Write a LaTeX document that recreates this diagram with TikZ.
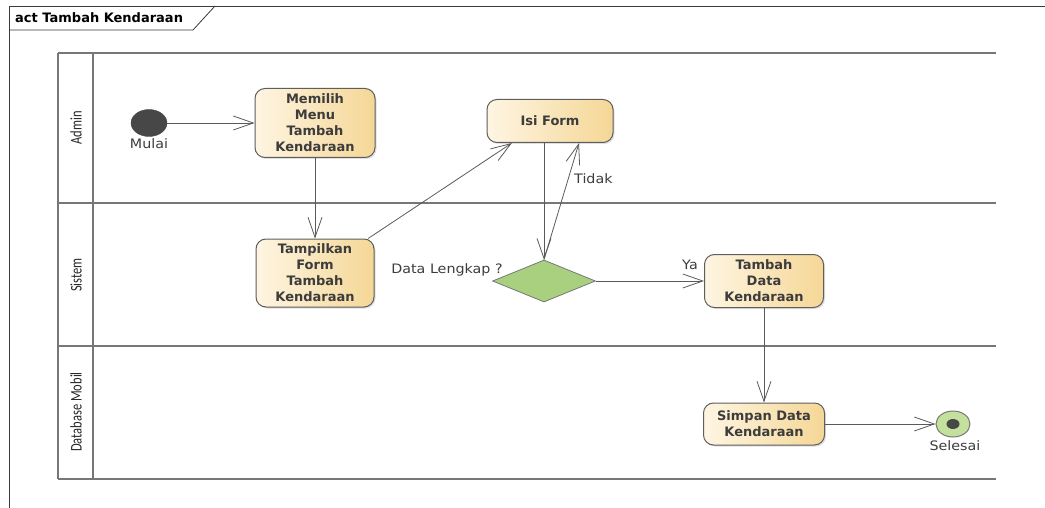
\documentclass[tikz,border=0pt]{standalone}
\usepackage{fontspec}
\usepackage{graphicx}
\setmainfont{DejaVu Sans}
\newfontfamily\lanefont{Carlito}
\usetikzlibrary{arrows.meta,shapes.geometric,shadows,calc}

\definecolor{framegray}{HTML}{3A3A3A}
\definecolor{lanegray}{HTML}{777777}
\definecolor{edgegray}{HTML}{5A5A5A}
\definecolor{actlight}{HTML}{FEF5E2}
\definecolor{actdark}{HTML}{F5D796}
\definecolor{actline}{HTML}{5E5E5E}
\definecolor{decgreen}{HTML}{A9D07E}
\definecolor{endgreen}{HTML}{C3E19C}
\definecolor{darkdot}{HTML}{474747}
\definecolor{txtgray}{HTML}{3C3C3C}

% horizontally widened text for the plain labels
\newcommand{\widetext}[1]{\scalebox{1.1}[1]{#1}}
% lane captions, set tall so they read wide once rotated
\newcommand{\lanetext}[1]{\scalebox{1}[1.3]{#1}}

\tikzset{
  lane/.style={draw=lanegray, line width=2pt},
  action/.style={rectangle, rounded corners=10pt, draw=actline, line width=1pt,
    left color=actlight, right color=actdark, inner sep=0pt, align=center,
    font=\bfseries\fontsize{13}{16}\selectfont, text=txtgray,
    drop shadow={shadow xshift=1.5pt, shadow yshift=-1.5pt, opacity=0.25}},
  decision/.style={diamond, draw=lanegray, line width=0.8pt, fill=decgreen,
    inner sep=0pt, minimum width=103pt, minimum height=42pt},
  label/.style={font=\fontsize{13}{15}\selectfont, text=txtgray, inner sep=0pt},
  lanelabel/.style={font=\lanefont\fontsize{12.5}{15}\selectfont, text=black!85,
    rotate=90, inner sep=0pt},
  arr/.style={draw=edgegray, line width=0.8pt,
    -{Straight Barb[length=20pt, width=14pt, line width=0.8pt]}},
}

\begin{document}
\begin{tikzpicture}[x=1pt, y=-1pt]
\useasboundingbox (0,0) rectangle (1045,508);

% diagram frame with its name tab
\draw[framegray, line width=0.8pt] (9,520) -- (9,6) -- (1050,6);
\draw[framegray, line width=0.8pt] (9,30) -- (193,30) -- (215,6);
\node[anchor=west, font=\bfseries\fontsize{13}{15}\selectfont, text=black, inner sep=0pt]
  (title) at (15,18) {act Tambah Kendaraan};

% swimlanes
\draw[lane] (58,53) -- (996,53);
\draw[lane] (58,203) -- (996,203);
\draw[lane] (58,346) -- (996,346);
\draw[lane] (58,479) -- (996,479);
\draw[lane] (58,53) -- (58,479);
\draw[lane] (93,53) -- (93,479);
\node[lanelabel] (laneA) at (76,128) {\lanetext{Admin}};
\node[lanelabel] (laneS) at (76,275) {\lanetext{Sistem}};
\node[lanelabel] (laneD) at (76,412) {\lanetext{Database Mobil}};

% start node
\node[ellipse, fill=darkdot, draw=darkdot, minimum width=36pt, minimum height=27pt,
  inner sep=0pt] (start) at (149,123) {};
\node[label] (startlbl) at (149,144) {\widetext{Mulai}};

% actions
\node[action, minimum width=120pt, minimum height=69pt] (memilih) at (315,123)
  {Memilih\\Menu\\Tambah\\Kendaraan};
\node[action, minimum width=118pt, minimum height=68pt] (tampil) at (315,273)
  {Tampilkan\\Form\\Tambah\\Kendaraan};
\node[action, minimum width=126pt, minimum height=43pt] (isi) at (550,121)
  {Isi Form};
\node[decision] (dia) at (544,281) {};
\node[label] (dialbl) at (447,270) {\widetext{Data Lengkap ?}};
\node[action, minimum width=119pt, minimum height=53pt] (tambah) at (764,281)
  {Tambah\\Data\\Kendaraan};
\node[action, minimum width=121pt, minimum height=42pt] (simpan) at (764,424)
  {Simpan Data\\Kendaraan};

% final node
\node[ellipse, fill=endgreen, draw=lanegray, line width=1pt, minimum width=34pt,
  minimum height=26pt, inner sep=0pt] (end) at (953,424) {};
\node[ellipse, fill=darkdot, minimum width=13pt, minimum height=10pt, inner sep=0pt]
  (enddot) at (end.center) {};
\node[label] (endlbl) at (955,446) {\widetext{Selesai}};

% control flows
\draw[arr] (start.east) -- (memilih.west);
\draw[arr] (memilih.south) -- (tampil.north);
\draw[arr] (tampil.33) -- (isi.210);
\draw[arr] (isi.south -| dia.north) -- (dia.north);
\draw[arr] (dia.north) -- ([xshift=29pt]isi.south);
\node[label, anchor=west] (tidak) at (574,179) {\widetext{Tidak}};
\draw[arr] (dia.east) -- (tambah.west);
\node[label] (ya) at (690,265) {\widetext{Ya}};
\draw[arr] (tambah.south) -- (simpan.north);
\draw[arr] (simpan.east) -- (end.west);
\end{tikzpicture}
\end{document}
